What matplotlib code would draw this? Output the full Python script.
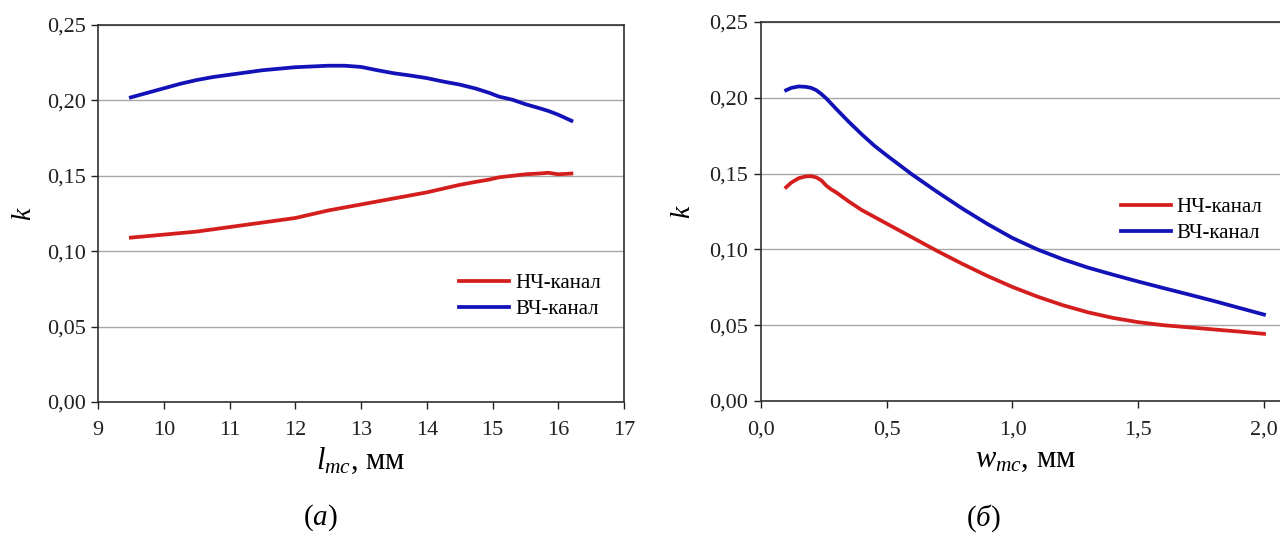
import matplotlib
matplotlib.use("Agg")
import matplotlib.pyplot as plt
from matplotlib.ticker import FuncFormatter, MultipleLocator

plt.rcParams['font.family'] = ['Liberation Serif', 'DejaVu Serif']
plt.rcParams['mathtext.fontset'] = 'custom'
plt.rcParams['mathtext.rm'] = 'Liberation Serif'
plt.rcParams['mathtext.it'] = 'Liberation Serif:italic'

# (а) coupling vs. l_mc
l_mc = [9.5, 9.75, 10.0, 10.25, 10.5, 10.75, 11.0, 11.25, 11.5, 11.75, 12.0, 12.25, 12.5, 12.75,
        13.0, 13.25, 13.5, 13.75, 14.0, 14.25, 14.5, 14.75, 14.95, 15.1, 15.3, 15.5, 15.7, 15.85,
        16.0, 16.2]
k_lf_a = [0.109, 0.110, 0.111, 0.112, 0.113, 0.1145, 0.116, 0.1175, 0.119, 0.1205, 0.122, 0.1245,
          0.127, 0.129, 0.131, 0.133, 0.135, 0.137, 0.139, 0.1415, 0.144, 0.146, 0.1475, 0.149,
          0.150, 0.151, 0.1515, 0.152, 0.151, 0.1515]
k_hf_a = [0.202, 0.205, 0.208, 0.211, 0.2135, 0.2155, 0.217, 0.2185, 0.220, 0.221, 0.222, 0.2225,
          0.223, 0.223, 0.2222, 0.220, 0.218, 0.2165, 0.2148, 0.2125, 0.2105, 0.2078, 0.205, 0.2025,
          0.2005, 0.1975, 0.195, 0.193, 0.1905, 0.1865]

# (б) coupling vs. w_mc
w_mc = [0.10, 0.12, 0.15, 0.18, 0.20, 0.22, 0.24, 0.26, 0.28, 0.30, 0.35, 0.40, 0.45, 0.50,
        0.60, 0.70, 0.80, 0.90, 1.00, 1.10, 1.20, 1.30, 1.40, 1.50, 1.60, 1.70, 1.80, 1.90, 2.00]
k_lf_b = [0.141, 0.144, 0.1470, 0.1482, 0.1483, 0.1475, 0.1455, 0.1420, 0.1395, 0.1375, 0.1315,
          0.1260, 0.1215, 0.1170, 0.1080, 0.0990, 0.0905, 0.0825, 0.0752, 0.0688, 0.0632, 0.0585,
          0.0548, 0.0520, 0.0500, 0.0486, 0.0472, 0.0458, 0.0443]
k_hf_b = [0.2050, 0.2065, 0.2075, 0.2072, 0.2065, 0.2050, 0.2025, 0.1995, 0.1960, 0.1925, 0.1840,
          0.1760, 0.1685, 0.1620, 0.1495, 0.1380, 0.1270, 0.1168, 0.1075, 0.0999, 0.0935, 0.0880,
          0.0833, 0.0788, 0.0745, 0.0703, 0.0660, 0.0615, 0.0570]

series_labels = ['НЧ-канал', 'ВЧ-канал']
RED = '#d41e1e'
BLUE = '#1212b8'

fig = plt.figure(figsize=(12.8, 5.37), dpi=100)

ax1 = fig.add_axes([98 / 1280, 1 - 402 / 537, 526 / 1280, 377 / 537])
ax2 = fig.add_axes([761 / 1280, 1 - 401 / 537, 2.1 * 251.5 / 1280, 379 / 537])

comma = lambda fmt: FuncFormatter(lambda v, p: (fmt % v).replace('.', ','))


def style(ax, xfmt, xmaj, ypad):
    ax.set_ylim(0, 0.25)
    ax.yaxis.set_major_locator(MultipleLocator(0.05))
    ax.xaxis.set_major_locator(MultipleLocator(xmaj))
    ax.yaxis.set_major_formatter(comma('%.2f'))
    ax.xaxis.set_major_formatter(comma(xfmt))
    ax.grid(axis='y', color='#a8a8a8', linewidth=1.0)
    ax.set_axisbelow(True)
    for s in ax.spines.values():
        s.set_color('#303030')
        s.set_linewidth(1.2)
    ax.tick_params(direction='out', length=5, width=1, labelsize=16, colors='#202020', pad=4)
    ax.tick_params(axis='x', pad=9)
    ax.set_ylabel('$k$', fontsize=20, labelpad=ypad)


ax1.plot(l_mc, k_lf_a, color=RED, lw=2.7, label=series_labels[0])
ax1.plot(l_mc, k_hf_a, color=BLUE, lw=2.7, label=series_labels[1])
ax1.set_xlim(9, 17)
style(ax1, '%d', 1, 7)
ax1.set_xlabel('$l_{mc}$, мм', fontsize=22, labelpad=4)
ax1.legend(loc='center left', bbox_to_anchor=(0.67, 0.28), frameon=False, fontsize=15,
           handlelength=2.4, handletextpad=0.3, labelspacing=0.3, borderaxespad=0)

ax2.plot(w_mc, k_lf_b, color=RED, lw=2.7, label=series_labels[0])
ax2.plot(w_mc, k_hf_b, color=BLUE, lw=2.7, label=series_labels[1])
ax2.set_xlim(0, 2.1)
style(ax2, '%.1f', 0.5, 10)
ax2.set_xlabel('$w_{mc}$, мм', fontsize=22, labelpad=4)
ax2.legend(loc='center left', bbox_to_anchor=(0.665, 0.476), frameon=False, fontsize=15,
           handlelength=2.4, handletextpad=0.3, labelspacing=0.3, borderaxespad=0)

fig.text(320 / 1280, 1 - 518 / 537, '($\\mathit{а}$)', ha='center', va='center', fontsize=21)
fig.text(983 / 1280, 1 - 518 / 537, '($\\mathit{б}$)', ha='center', va='center', fontsize=21)

fig.savefig('out.png', dpi=100)
